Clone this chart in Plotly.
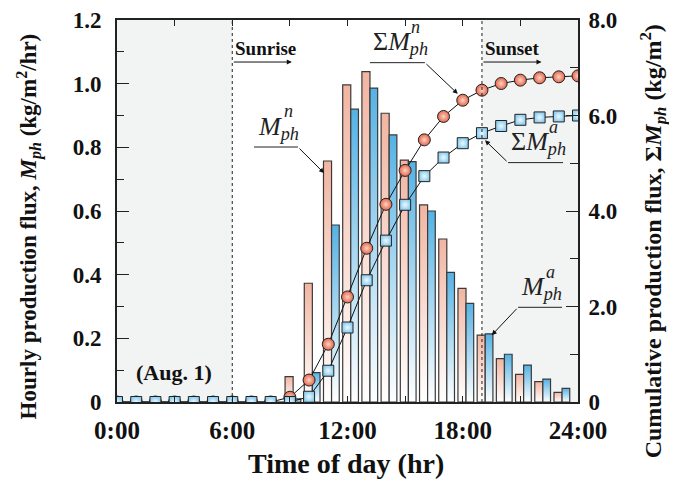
import plotly.graph_objects as go

# ---------------- data ----------------
bar_hours = list(range(24))
flux_n = [0, 0, 0, 0, 0, 0, 0, 0, 0, 0.080, 0.373, 0.757, 0.996, 1.038, 0.907, 0.760,
          0.619, 0.512, 0.357, 0.210, 0.136, 0.087, 0.064, 0.030]
flux_a = [0, 0, 0, 0, 0, 0, 0, 0, 0, 0.010, 0.092, 0.556, 0.920, 0.986, 0.839, 0.755,
          0.600, 0.407, 0.310, 0.214, 0.150, 0.116, 0.072, 0.043]
cum_hours = list(range(25))
cum_n = [0, 0, 0, 0, 0, 0, 0, 0, 0, 0.10, 0.46, 1.21, 2.20, 3.22, 4.14, 4.85, 5.49,
         5.98, 6.32, 6.53, 6.67, 6.74, 6.79, 6.81, 6.83]
cum_a = [0, 0, 0, 0, 0, 0, 0, 0, 0, 0, 0.11, 0.655, 1.56, 2.55, 3.38, 4.13, 4.73,
         5.12, 5.42, 5.63, 5.78, 5.91, 5.96, 5.98, 6.00]
x_tickvals = [0, 6, 12, 18, 24]
x_ticktext = ["0:00", "6:00", "12:00", "18:00", "24:00"]
yl_tickvals = [0, 0.2, 0.4, 0.6, 0.8, 1.0, 1.2]
yl_ticktext = ["0", "0.2", "0.4", "0.6", "0.8", "1.0", "1.2"]
yr_tickvals = [0, 2, 4, 6, 8]
yr_ticktext = ["0", "2.0", "4.0", "6.0", "8.0"]
sunrise, sunset = 6, 19

# ---------------- style ----------------
SERIF = "Liberation Serif"
PINK = "#f2b5a1"
BLUE = "#55b2e4"
EDGE = "#3a3a3a"
N_OFF, N_W = -0.25, 0.42
A_OFF, A_W = 0.17, 0.40

fig = go.Figure()


def add_bar(h, v, off, w, color):
    x0, x1 = h + off, h + off + w
    fig.add_trace(go.Scatter(
        x=[x0, x0, x1, x1, x0], y=[0, v, v, 0, 0],
        mode="lines", fill="toself",
        fillgradient=dict(type="vertical",
                          colorscale=[[0, "#ffffff"], [1, color]]),
        line=dict(color=EDGE, width=1.2),
        hoverinfo="skip", showlegend=False))


for h, vn, va in zip(bar_hours, flux_n, flux_a):
    if vn > 0:
        add_bar(h, vn, N_OFF, N_W, PINK)
    if va > 0:
        add_bar(h, va, A_OFF, A_W, BLUE)

fig.add_trace(go.Scatter(
    x=cum_hours, y=cum_n, yaxis="y2", mode="lines+markers",
    line=dict(color="#111", width=1),
    marker=dict(symbol="circle", size=12, color="#e2654a",
                gradient=dict(type="radial", color="#fdd3c4"),
                line=dict(color="#222", width=1)),
    showlegend=False))
fig.add_trace(go.Scatter(
    x=cum_hours, y=cum_a, yaxis="y2", mode="lines+markers",
    line=dict(color="#111", width=1),
    marker=dict(symbol="square", size=11, color="#8ccdf0",
                gradient=dict(type="radial", color="#eef9fe"),
                line=dict(color="#222", width=1)),
    showlegend=False))

# shaded night periods and dotted lines
for x0, x1 in [(0, sunrise), (sunset, 24)]:
    fig.add_shape(type="rect", xref="x", yref="paper", x0=x0, x1=x1, y0=0, y1=1,
                  fillcolor="#f2f3f3", line_width=0, layer="below")
for xv in [sunrise, sunset]:
    fig.add_shape(type="line", xref="x", yref="paper", x0=xv, x1=xv, y0=0, y1=1,
                  line=dict(color="#222", width=1, dash="dot"))

ann = []
# Sunrise / Sunset
for xv, label in [(sunrise, "Sunrise"), (sunset, "Sunset")]:
    ann.append(dict(x=xv + 3.1, y=1.068, ax=xv, ay=1.068, xref="x", yref="y",
                    axref="x", ayref="y", text="", showarrow=True,
                    arrowhead=2, arrowsize=1, arrowwidth=1, arrowcolor="#111"))
    ann.append(dict(x=xv + 0.05, y=1.112, xref="x", yref="y", text="<b>%s</b>" % label,
                    showarrow=False, xanchor="left", yanchor="middle",
                    font=dict(family=SERIF, size=19, color="#111")))
ann.append(dict(x=2.97, y=0.094, xref="x", yref="y", text="<b>(Aug. 1)</b>",
                showarrow=False, font=dict(family=SERIF, size=22, color="#111")))

# leader labels
labels = [
    ("<i>M</i><sub><i>ph</i></sub>", "n", 7.25, 0.80, 7.13, 9.42, 0.801, 10.78, 0.719, True, 8.95),
    ("Σ<i>M</i><sub><i>ph</i></sub>", "n", 13.2, 1.065, 13.17, 16.03, 1.066, 17.74, 0.968, True, 15.55),
    ("Σ<i>M</i><sub><i>ph</i></sub>", "a", 20.4, 0.751, 20.36, 23.22, 0.752, 19.16, 0.822, False, 22.75),
    ("<i>M</i><sub><i>ph</i></sub>", "a", 20.95, 0.296, 20.88, 23.17, 0.2975, 19.51, 0.21, False, 22.55),
]
for txt, sup, tx, ty, ux0, ux1, uy, tipx, tipy, right, supx in labels:
    ann.append(dict(x=tx, y=ty + 0.005, xref="x", yref="y", text=txt, showarrow=False,
                    xanchor="left", yanchor="bottom",
                    font=dict(family=SERIF, size=26, color="#222")))
    ann.append(dict(x=supx, y=ty + 0.075, xref="x", yref="y", text="<i>%s</i>" % sup,
                    showarrow=False, xanchor="center", yanchor="bottom",
                    font=dict(family=SERIF, size=18, color="#222")))
    fig.add_shape(type="line", xref="x", yref="y", x0=ux0, x1=ux1, y0=uy, y1=uy,
                  line=dict(color="#222", width=1))
    tail = ux1 if right else ux0
    ann.append(dict(x=tipx, y=tipy, ax=tail, ay=uy, xref="x", yref="y",
                    axref="x", ayref="y", text="", showarrow=True,
                    arrowhead=2, arrowsize=1, arrowwidth=1, arrowcolor="#111"))

# axis titles
ann.append(dict(x=-0.192, y=0.461, xref="paper", yref="paper", textangle=-90,
                xanchor="center", yanchor="middle",
                text="<b>Hourly production flux, <i>M</i><sub><i>ph</i></sub> (kg/m<sup>2</sup>/hr)</b>",
                showarrow=False, font=dict(family=SERIF, size=23, color="#111")))
ann.append(dict(x=1.163, y=0.421, xref="paper", yref="paper", textangle=-90,
                xanchor="center", yanchor="middle",
                text="<b>Cumulative production flux, Σ<i>M</i><sub><i>ph</i></sub> (kg/m<sup>2</sup>)</b>",
                showarrow=False, font=dict(family=SERIF, size=24, color="#111")))
ann.append(dict(x=0.497, y=-0.162, xref="paper", yref="paper",
                xanchor="center", yanchor="middle",
                text="<b>Time of day (hr)</b>", showarrow=False,
                font=dict(family=SERIF, size=28, color="#111")))

ytickfont = dict(family=SERIF, size=23, color="#111", weight="bold")
xtickfont = dict(family=SERIF, size=25, color="#111", weight="bold")
# the page body adds an 8 px offset, so the figure is 8 px smaller/shifted
fig.update_layout(
    width=669, height=473,
    margin=dict(l=109, r=99, t=12, b=79, autoexpand=False),
    paper_bgcolor="white", plot_bgcolor="white",
    showlegend=False,
    annotations=ann,
    xaxis=dict(range=[0, 24], tickvals=x_tickvals, ticktext=x_ticktext,
               ticks="inside", ticklen=6, tickwidth=1, tickcolor="#222",
               minor=dict(tick0=0, dtick=3, ticks="inside", ticklen=6, tickcolor="#222"),
               showline=True, linecolor="#222", linewidth=2, mirror="ticks",
               showgrid=False, zeroline=False, tickfont=xtickfont,
               ticklabelstandoff=5, automargin=False),
    yaxis=dict(range=[0, 1.2], tickvals=yl_tickvals, ticktext=yl_ticktext,
               ticks="inside", ticklen=12, tickwidth=1, tickcolor="#222",
               minor=dict(dtick=0.1, ticks="inside", ticklen=7, tickcolor="#222"),
               showline=True, linecolor="#222", linewidth=2,
               showgrid=False, zeroline=False, tickfont=ytickfont,
               ticklabelstandoff=9, automargin=False),
    yaxis2=dict(range=[0, 8], tickvals=yr_tickvals, ticktext=yr_ticktext,
                overlaying="y", side="right",
                ticks="inside", ticklen=12, tickwidth=1, tickcolor="#222",
                minor=dict(dtick=1, ticks="inside", ticklen=8, tickcolor="#222"),
                showline=True, linecolor="#222", linewidth=2,
                showgrid=False, zeroline=False, tickfont=ytickfont,
                ticklabelstandoff=4, automargin=False),
)

fig.write_html("out.html")
